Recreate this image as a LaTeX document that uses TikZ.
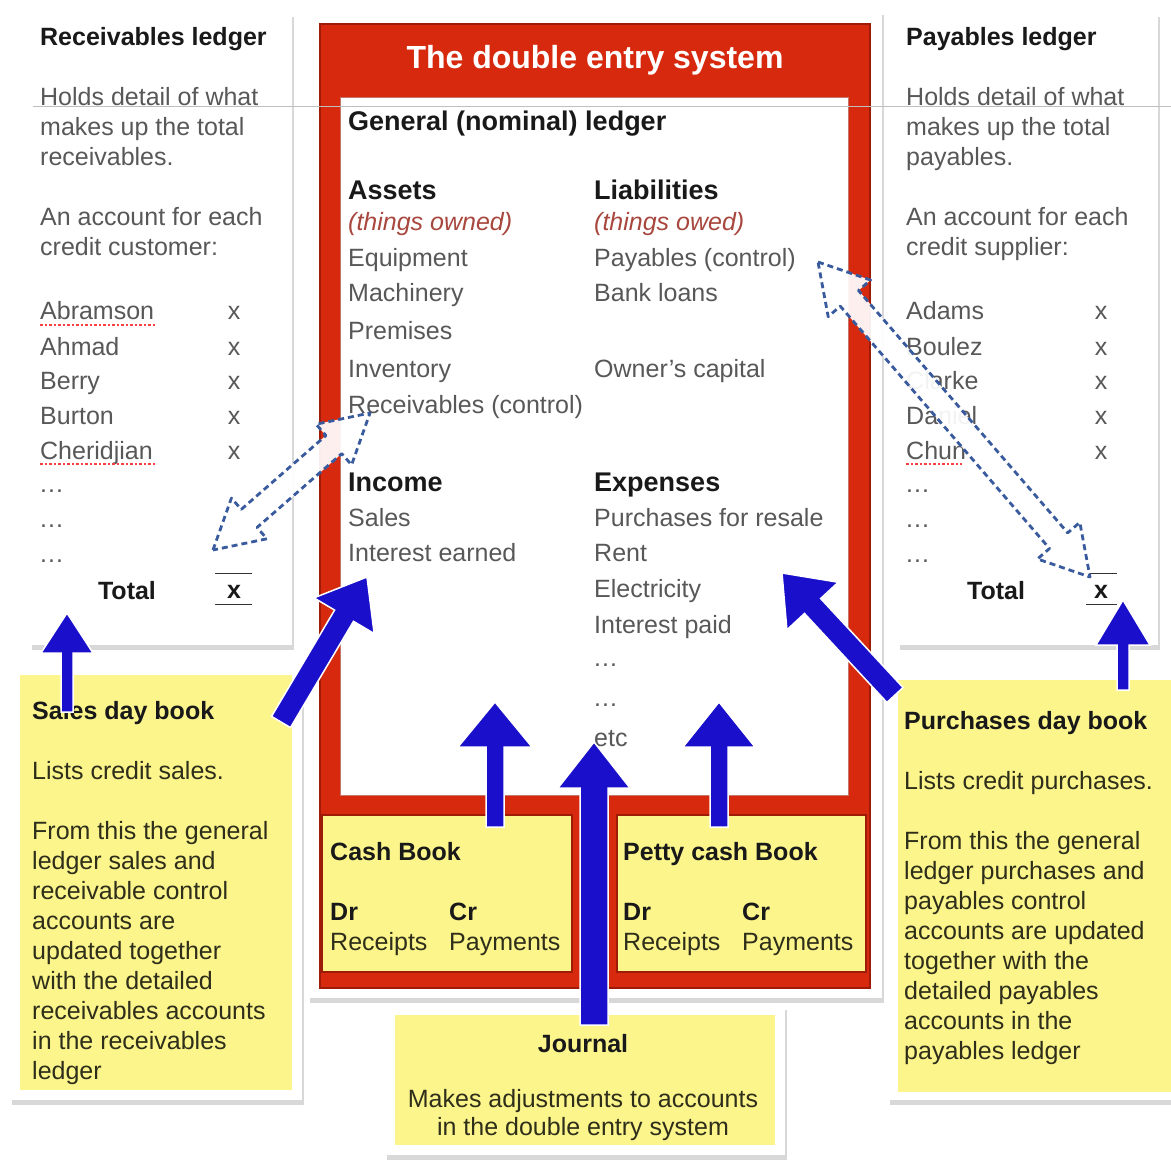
\documentclass[tikz,border=0pt]{standalone}
\usepackage{fontspec}
\setmainfont{Liberation Sans}
\usetikzlibrary{calc,shadows}
\definecolor{redbox}{HTML}{D6290E}
\definecolor{rededge}{HTML}{9E1B08}
\definecolor{yel}{HTML}{FBF58C}
\definecolor{arrowblue}{HTML}{1A10CC}
\definecolor{dashblue}{HTML}{3A5A9E}
\definecolor{txt}{HTML}{585858}
\definecolor{darktxt}{HTML}{2E2E1A}
\definecolor{owned}{HTML}{A8473E}
\newcommand{\dashdbl}[6]{%
 \coordinate (#1p) at ($(#2)!#4!(#3)$);
 \coordinate (#1q) at ($(#3)!#4!(#2)$);
 \path[dasharrow] (#2) -- ($(#1p)!#5!90:(#3)$) -- ($(#1p)!#6!90:(#3)$) -- ($(#1q)!#6!-90:(#2)$) -- ($(#1q)!#5!-90:(#2)$) -- (#3) -- ($(#1q)!#5!90:(#2)$) -- ($(#1q)!#6!90:(#2)$) -- ($(#1p)!#6!-90:(#3)$) -- ($(#1p)!#5!-90:(#3)$) -- cycle;}
\newcommand{\blockarrow}[6]{%
 \coordinate (#1b) at ($(#3)!#4!(#2)$);
 \path[solidarrow] ($(#2)!#6!90:(#3)$) -- ($(#1b)!#6!90:(#3)$) -- ($(#1b)!#5!90:(#3)$) -- (#3) -- ($(#1b)!#5!-90:(#3)$) -- ($(#1b)!#6!-90:(#3)$) -- ($(#2)!#6!-90:(#3)$) -- cycle;}
\newcommand{\tdots}{.\kern1pt.\kern1pt.}
\begin{document}
\begin{tikzpicture}[x=1pt,y=-1pt,
  body/.style={anchor=base west, inner sep=0pt, text=txt, font=\fontsize{25}{30}\selectfont},
  bodyc/.style={body, anchor=base},
  ybody/.style={body, text=darktxt},
  ybodyc/.style={ybody, anchor=base},
  head/.style={anchor=base west, inner sep=0pt, text=black!90, font=\fontsize{25}{30}\selectfont\bfseries},
  headc/.style={head, anchor=base},
  glhead/.style={head, font=\fontsize{27}{32}\selectfont\bfseries},
  card/.style={fill=white, inner sep=0pt, drop shadow={shadow xshift=2pt, shadow yshift=-5pt, opacity=0.3}},
  yelbox/.style={fill=yel, inner sep=0pt},
  dasharrow/.style={draw=dashblue, line width=2.8pt, dash pattern=on 6pt off 4pt, fill=white, fill opacity=0.93, line join=round},
  solidarrow/.style={fill=arrowblue, draw=white, line width=1.5pt},
  spell/.style={draw=red!75, line width=1.4pt, dash pattern=on 2.5pt off 2pt},
  rule/.style={draw=black!80, line width=1pt}
]
\useasboundingbox[fill=white] (0,0) rectangle (1171,1162);

% ---------- cards and boxes ----------
\node[card, minimum width=262pt, minimum height=633pt] (rlp) at (161,328.5) {};
\node[card, minimum width=260pt, minimum height=633pt] (plp) at (1028,328.5) {};
\node[card, minimum width=574pt, minimum height=988pt] (cc) at (595,504) {};
\node[fill=redbox, draw=rededge, line width=2pt, inner sep=0pt, minimum width=550pt, minimum height=964pt] (redb) at (595,506) {};
\node[fill=white, draw=rededge!60, line width=0.8pt, inner sep=0pt, minimum width=508pt, minimum height=698pt] (gl) at (594,446) {};
\node[yelbox, draw=rededge, line width=2.5pt, minimum width=250pt, minimum height=157pt] (cb) at (447,893.5) {};
\node[yelbox, draw=rededge, line width=2.5pt, minimum width=249pt, minimum height=157pt] (pcb) at (741.5,893.5) {};
\node[card, minimum width=292pt, minimum height=435pt] (sdbc) at (156,882.5) {};
\node[yelbox, minimum width=272pt, minimum height=415pt] (sdb) at (156,882.5) {};
\node[card, minimum width=283pt, minimum height=430pt] (pdbc) at (1029.5,885) {};
\node[yelbox, minimum width=273pt, minimum height=412pt] (pdb) at (1034.5,886) {};
\node[card, minimum width=400pt, minimum height=150pt] (jc) at (585,1080) {};
\node[yelbox, minimum width=380pt, minimum height=130pt] (jb) at (585,1080) {};

% faint horizontal line
\draw[black!25, line width=0.8pt] (33,106) -- (1171,106);

% ---------- title ----------
\node[font=\fontsize{32}{36}\selectfont\bfseries, text=white, inner sep=0pt] (title) at (595,60) {The double entry system};

% ---------- receivables ledger ----------
\node[head] (rlh) at (40,45) {Receivables ledger};
\node[body] (rl1) at (40,105) {Holds detail of what};
\node[body] (rl2) at (40,135) {makes up the total};
\node[body] (rl3) at (40,165) {receivables.};
\node[body] (rl4) at (40,225) {An account for each};
\node[body] (rl5) at (40,255) {credit customer:};
\foreach \t/\yy [count=\i] in {Abramson/319, Ahmad/355, Berry/389, Burton/424, Cheridjian/459} {
  \node[body] (rn\i) at (40,\yy) {\t};
  \node[bodyc] (rx\i) at (234,\yy) {x};
}
\node[body] (rd1) at (40,492) {\tdots};
\node[body] (rd2) at (40,527) {\tdots};
\node[body] (rd3) at (40,562) {\tdots};
\node[headc] (rtot) at (127,599) {Total};
\node[headc] (rtx) at (234,598) {x};
\draw[rule] (215,573) -- (252,573);
\draw[rule] (215,604) -- (252,604);
\draw[spell] (40,325) -- (156,325);
\draw[spell] (40,464) -- (156,464);

% ---------- payables ledger ----------
\node[head] (plh) at (906,45) {Payables ledger};
\node[body] (pl1) at (906,105) {Holds detail of what};
\node[body] (pl2) at (906,135) {makes up the total};
\node[body] (pl3) at (906,165) {payables.};
\node[body] (pl4) at (906,225) {An account for each};
\node[body] (pl5) at (906,255) {credit supplier:};
\foreach \t/\yy [count=\i] in {Adams/319, Boulez/355, Clarke/389, Daniel/424, Chun/459} {
  \node[body] (pn\i) at (906,\yy) {\t};
  \node[bodyc] (px\i) at (1101,\yy) {x};
}
\node[body] (pd1) at (906,492) {\tdots};
\node[body] (pd2) at (906,527) {\tdots};
\node[body] (pd3) at (906,562) {\tdots};
\node[headc] (ptot) at (996,599) {Total};
\node[headc] (ptx) at (1101,598) {x};
\draw[rule] (1086,573) -- (1117,573);
\draw[rule] (1086,604) -- (1117,604);
\draw[spell] (906,464) -- (962,464);

% ---------- general ledger ----------
\node[glhead] (glh) at (348,130) {General (nominal) ledger};
\node[glhead] (ash) at (348,199) {Assets};
\node[body, text=owned, font=\fontsize{25}{30}\selectfont\itshape] (aso) at (348,230) {(things owned)};
\node[body] (as1) at (348,266) {Equipment};
\node[body] (as2) at (348,301) {Machinery};
\node[body] (as3) at (348,339) {Premises};
\node[body] (as4) at (348,377) {Inventory};
\node[body] (as5) at (348,413) {Receivables (control)};
\node[glhead] (lih) at (594,199) {Liabilities};
\node[body, text=owned, font=\fontsize{25}{30}\selectfont\itshape] (lio) at (594,230) {(things owed)};
\node[body] (li1) at (594,266) {Payables (control)};
\node[body] (li2) at (594,301) {Bank loans};
\node[body] (li3) at (594,377) {Owner’s capital};
\node[glhead] (inh) at (348,491) {Income};
\node[body] (in1) at (348,526) {Sales};
\node[body] (in2) at (348,561) {Interest earned};
\node[glhead] (exh) at (594,491) {Expenses};
\node[body] (ex1) at (594,526) {Purchases for resale};
\node[body] (ex2) at (594,561) {Rent};
\node[body] (ex3) at (594,597) {Electricity};
\node[body] (ex4) at (594,633) {Interest paid};
\node[body] (ex5) at (594,666) {\tdots};
\node[body] (ex6) at (594,706) {\tdots};
\node[body] (ex7) at (594,746) {etc};

% ---------- cash books ----------
\node[head] (cbh) at (330,860) {Cash Book};
\node[head] (cbdr) at (330,920) {Dr};
\node[head] (cbcr) at (449,920) {Cr};
\node[ybody] (cbr) at (330,950) {Receipts};
\node[ybody] (cbp) at (449,950) {Payments};
\node[head] (pch) at (623,860) {Petty cash Book};
\node[head] (pcdr) at (623,920) {Dr};
\node[head] (pccr) at (742,920) {Cr};
\node[ybody] (pcr) at (623,950) {Receipts};
\node[ybody] (pcp) at (742,950) {Payments};

% ---------- sales day book ----------
\node[head] (sdbh) at (32,719) {Sales day book};
\node[ybody] (sdb0) at (32,779) {Lists credit sales.};
\foreach \t [count=\i] in {From this the general, ledger sales and, receivable control, accounts are, updated together, with the detailed, receivables accounts, in the receivables, ledger}
  \node[ybody] (sdb\i) at (32,809+30*\i) {\t};

% ---------- purchases day book ----------
\node[head] (pdbh) at (904,729) {Purchases day book};
\node[ybody] (pdb0) at (904,789) {Lists credit purchases.};
\foreach \t [count=\i] in {From this the general, ledger purchases and, payables control, accounts are updated, together with the, detailed payables, accounts in the, payables ledger}
  \node[ybody] (pdb\i) at (904,819+30*\i) {\t};

% ---------- journal ----------
\node[headc] (jh) at (583,1052) {Journal};
\node[ybodyc] (j1) at (583,1107) {Makes adjustments to accounts};
\node[ybodyc] (j2) at (583,1135) {in the double entry system};

% ---------- dashed double arrows ----------
\coordinate (rdA) at (213,550);
\coordinate (rdB) at (370,413);
\dashdbl{rd}{rdA}{rdB}{48pt}{27pt}{12pt}
\coordinate (pdA) at (818,262);
\coordinate (pdB) at (1090,577);
\dashdbl{pdd}{pdA}{pdB}{48pt}{28pt}{12pt}

% ---------- solid block arrows ----------
\coordinate (a1t) at (67,712);   \coordinate (a1h) at (67,613);
\coordinate (a2t) at (1123,690); \coordinate (a2h) at (1123,600);
\coordinate (a3t) at (281,722);  \coordinate (a3h) at (367,577);
\coordinate (a4t) at (895,695);  \coordinate (a4h) at (782,573);
\coordinate (a5t) at (495,827);  \coordinate (a5h) at (495,702);
\coordinate (a6t) at (719,827);  \coordinate (a6h) at (719,702);
\coordinate (a7t) at (594,1025); \coordinate (a7h) at (594,742);
\blockarrow{a1}{a1t}{a1h}{40pt}{26pt}{6pt}
\blockarrow{a2}{a2t}{a2h}{45pt}{27pt}{6pt}
\blockarrow{a3}{a3t}{a3h}{45pt}{35pt}{11pt}
\blockarrow{a4}{a4t}{a4h}{45pt}{35pt}{11pt}
\blockarrow{a5}{a5t}{a5h}{45pt}{37pt}{9pt}
\blockarrow{a6}{a6t}{a6h}{45pt}{36pt}{9pt}
\blockarrow{a7}{a7t}{a7h}{46pt}{36pt}{14pt}
\end{tikzpicture}
\end{document}
